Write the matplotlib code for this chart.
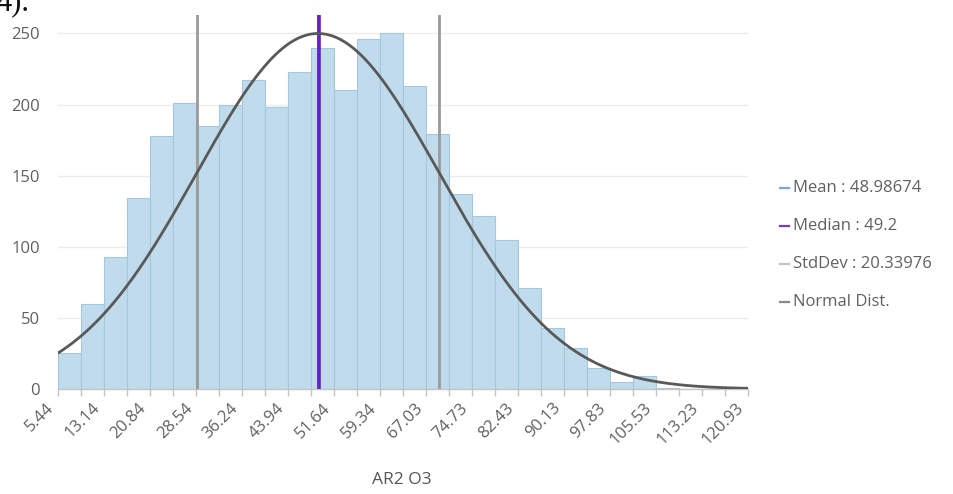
import numpy as np
import matplotlib
matplotlib.use("Agg")
import matplotlib.pyplot as plt
from matplotlib.lines import Line2D
from matplotlib.transforms import ScaledTranslation

# Histogram of AR2 O3 values
bin_start = 5.44
bin_width = 3.85
counts = [25, 60, 93, 134, 178, 201, 185, 200, 217, 198,
          223, 240, 210, 246, 250, 213, 179, 137, 122, 105,
          71, 43, 29, 15, 5, 9, 1, 0, 0, 0]
tick_labels = ["5.44", "13.14", "20.84", "28.54", "36.24", "43.94", "51.64",
               "59.34", "67.03", "74.73", "82.43", "90.13", "97.83",
               "105.53", "113.23", "120.93"]
mean_val = 48.98674
median_val = 49.2
std_val = 20.33976
x_title = "AR2 O3"

plt.rcParams["font.family"] = ["Open Sans", "DejaVu Sans"]

fig = plt.figure(figsize=(9.54, 4.94), dpi=100)
W, H = 954, 494
left, right, bottom, top = 58, 748, 389, 15
ax = fig.add_axes([left / W, 1 - bottom / H, (right - left) / W, (bottom - top) / H])

n = len(counts)
edges = bin_start + bin_width * np.arange(n + 1)
x_min, x_max = edges[0], edges[-1]

ax.bar(edges[:-1], counts, width=bin_width, align="edge",
       color="#c0dcec", edgecolor="#a3c8de", linewidth=0.8, zorder=2)

# Normal distribution curve scaled to the tallest bin
xs = np.linspace(x_min, x_max, 400)
curve = max(counts) * np.exp(-0.5 * ((xs - mean_val) / std_val) ** 2)

# Statistic markers
ax.axvline(mean_val - std_val, color="#9a9a9a", lw=2, zorder=3)
ax.axvline(mean_val + std_val, color="#9a9a9a", lw=2, zorder=3)
ax.axvline(mean_val, color="#5b8ff0", lw=2.2, zorder=4)
ax.axvline(median_val, color="#6a1fc0", lw=2.6, zorder=5)
ax.plot(xs, curve, color="#595959", lw=2, zorder=6, solid_capstyle="round")

ax.set_xlim(x_min, x_max + 0.05)
ax.set_ylim(0, 263)

ax.set_yticks([0, 50, 100, 150, 200, 250])
ax.yaxis.grid(True, color="#ececec", lw=1, zorder=0)
ax.set_axisbelow(True)
ax.tick_params(axis="y", length=0, pad=13, labelsize=12, labelcolor="#606060")

ax.set_xticks(edges, minor=True)
ax.set_xticks(edges[::2])
ax.set_xticklabels(tick_labels, rotation=45, ha="right", va="center",
                   rotation_mode="anchor")
ax.tick_params(axis="x", which="both", length=5, color="#c4c4c4", width=1,
               labelsize=12, labelcolor="#606060", pad=7, direction="out")
shift = ScaledTranslation(-6 / 100, 0, fig.dpi_scale_trans)
for lbl in ax.get_xticklabels():
    lbl.set_transform(lbl.get_transform() + shift)

for side in ("top", "right", "left"):
    ax.spines[side].set_visible(False)
ax.spines["bottom"].set_color("#c4c4c4")
ax.spines["bottom"].set_linewidth(1)

fig.text(402 / W, 1 - 480 / H, x_title, ha="center", va="center",
         fontsize=12.5, color="#555555")

# Legend entries on the right
legend_items = [
    (f"Mean : {mean_val}", "#7aa2ee"),
    (f"Median : {median_val}", "#7a3cc0"),
    (f"StdDev : {std_val}", "#c4c4c4"),
    ("Normal Dist.", "#8a8a8a"),
]
for i, (label, col) in enumerate(legend_items):
    yp = 188 + 38 * i
    fig.add_artist(Line2D([780 / W, 789 / W], [1 - yp / H, 1 - yp / H],
                          color=col, lw=1.6, transform=fig.transFigure))
    fig.text(793 / W, 1 - yp / H, label, ha="left", va="center",
             fontsize=12, color="#606060")

# Fragment of the surrounding text above the chart
fig.text(-4 / W, 1 - 10 / H, "4).", ha="left", va="baseline",
         fontsize=22, color="#111111", family="Liberation Serif")

fig.savefig("out.png", dpi=100)
